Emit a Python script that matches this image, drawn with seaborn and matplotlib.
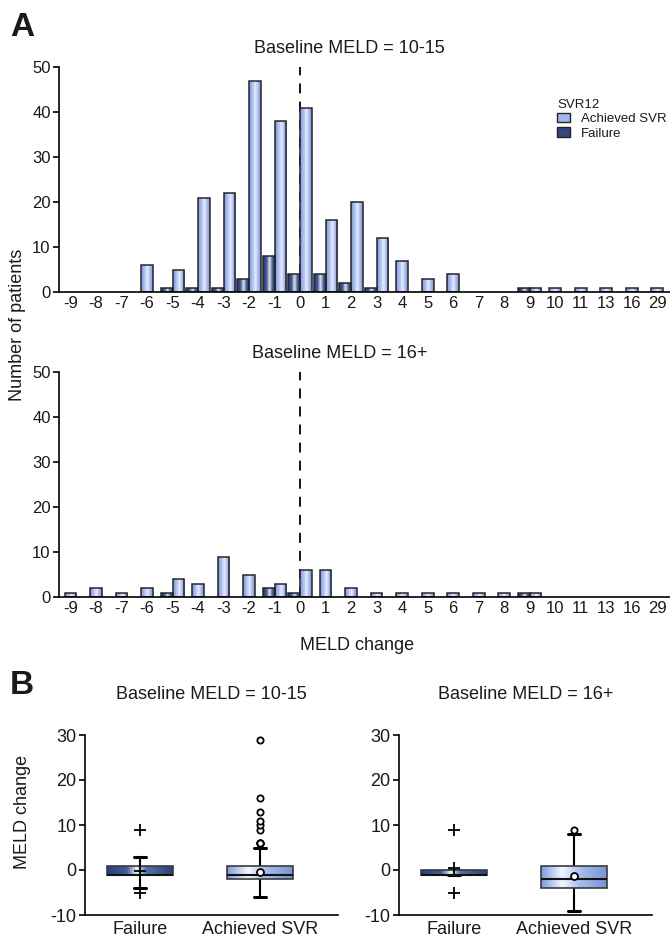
import numpy as np
import pandas as pd
import matplotlib
matplotlib.use('Agg')
import matplotlib.pyplot as plt
from matplotlib.colors import LinearSegmentedColormap, to_rgba
from matplotlib.patches import Patch
import seaborn as sns

# MELD change categories (x axis of the histograms)
categories = ['-9', '-8', '-7', '-6', '-5', '-4', '-3', '-2', '-1', '0', '1', '2', '3',
              '4', '5', '6', '7', '8', '9', '10', '11', '13', '16', '29']
change_values = [int(c) for c in categories]

# number of patients per MELD change, baseline MELD 10-15
achieved_low = [0, 0, 0, 6, 5, 21, 22, 47, 38, 41, 16, 20, 12, 7, 3, 4, 0, 0, 1, 1, 1, 1, 1, 1]
failure_low = [0, 0, 0, 0, 1, 1, 1, 3, 8, 4, 4, 2, 1, 0, 0, 0, 0, 0, 1, 0, 0, 0, 0, 0]
# baseline MELD 16+
achieved_high = [1, 2, 1, 2, 4, 3, 9, 5, 3, 6, 6, 2, 1, 1, 1, 1, 1, 1, 1, 0, 0, 0, 0, 0]
failure_high = [0, 0, 0, 0, 1, 0, 0, 0, 2, 1, 0, 0, 0, 0, 0, 0, 0, 0, 1, 0, 0, 0, 0, 0]

groups = ['Achieved SVR', 'Failure']
box_labels = ['Failure', 'Achieved SVR']

col_achieved = '#9db3ea'
col_failure = '#2e4279'
edge = '#262626'

cmap_achieved = LinearSegmentedColormap.from_list(
    'ach', [(0, '#7f98da'), (0.25, '#a3b8ee'), (0.55, '#e6edff'), (0.8, '#9fb4ec'), (1, '#7c95d8')])
cmap_failure = LinearSegmentedColormap.from_list(
    'fail', [(0, '#22336a'), (0.3, '#42588f'), (0.55, '#dfe4f0'), (0.8, '#465b92'), (1, '#203268')])
cmap_box_fail = LinearSegmentedColormap.from_list(
    'bfail', [(0, '#253f7a'), (0.3, '#405c9a'), (0.45, '#f0f3fa'), (0.6, '#56719f'), (1, '#27427e')])
cmap_box_ach = LinearSegmentedColormap.from_list(
    'bach', [(0, '#7e9bdc'), (0.32, '#f2f6ff'), (0.6, '#a7bcee'), (1, '#7694d8')])

sns.set_style('ticks')
plt.rcParams['font.family'] = ['Liberation Sans', 'DejaVu Sans']
plt.rcParams['axes.unicode_minus'] = False
plt.rcParams['axes.linewidth'] = 1.2
plt.rcParams['xtick.major.width'] = 1.2
plt.rcParams['ytick.major.width'] = 1.2
plt.rcParams['text.color'] = '#1a1a1a'
plt.rcParams['xtick.color'] = 'black'
plt.rcParams['ytick.color'] = 'black'
plt.rcParams['xtick.labelcolor'] = '#1a1a1a'
plt.rcParams['ytick.labelcolor'] = '#1a1a1a'
plt.rcParams['axes.edgecolor'] = 'black'


def gradient_fill(ax, patch, cmap, z):
    bb = patch.get_path().get_extents(patch.get_patch_transform())
    grad = np.linspace(0, 1, 256).reshape(1, -1)
    im = ax.imshow(grad, extent=[bb.x0, bb.x1, bb.y0, bb.y1], cmap=cmap, aspect='auto',
                   interpolation='bilinear', origin='lower', zorder=z)
    im.set_clip_path(patch)
    patch.set_facecolor('none')
    patch.set_zorder(z + 0.1)


def histogram(ax, achieved, failure, title, title_x):
    df = pd.DataFrame({
        'cat': categories * 2,
        'count': achieved + failure,
        'group': [groups[0]] * len(categories) + [groups[1]] * len(categories),
    })
    df = df[df['count'] > 0]
    ax.axvline(categories.index('0'), color='black', lw=1.3, ls=(0, (5.5, 4.5)), zorder=1)
    sns.barplot(data=df, x='cat', y='count', hue='group', order=categories, hue_order=groups,
                palette={groups[0]: col_achieved, groups[1]: col_failure}, dodge=False,
                saturation=1, width=0.46, errorbar=None, edgecolor=edge, linewidth=1.1,
                legend=False, ax=ax)
    both = {i for i in range(len(categories)) if achieved[i] > 0 and failure[i] > 0}
    bars = list(ax.patches)
    fail_rgba = to_rgba(col_failure)
    for p in bars:
        w = p.get_width()
        idx = int(round(p.get_x() + w / 2))
        fc = p.get_facecolor()
        is_fail = abs(fc[0] - fail_rgba[0]) + abs(fc[1] - fail_rgba[1]) + abs(fc[2] - fail_rgba[2]) < 0.1
        if idx in both:
            p.set_x(p.get_x() + (-w / 2 if is_fail else w / 2))
        gradient_fill(ax, p, cmap_failure if is_fail else cmap_achieved, 2)
    ax.set_xlim(-0.45, len(categories) - 0.5)
    ax.set_ylim(0, 50)
    ax.set_yticks([0, 10, 20, 30, 40, 50])
    ax.set_xlabel('')
    ax.set_ylabel('')
    ax.tick_params(axis='x', length=0, labelsize=12, pad=3)
    ax.tick_params(axis='y', length=4, labelsize=12, pad=2)
    ax.set_title(title, fontsize=13, x=title_x, pad=10)
    sns.despine(ax=ax)


def box_stats(vals):
    vals = np.asarray(vals, dtype=float)
    q1, med, q3 = np.percentile(vals, [25, 50, 75], method='lower')
    iqr = q3 - q1
    hi = vals[vals <= q3 + 1.5 * iqr].max()
    lo = vals[vals >= q1 - 1.5 * iqr].min()
    fliers = vals[(vals > hi) | (vals < lo)]
    return dict(med=med, q1=q1, q3=q3, whislo=lo, whishi=hi, fliers=fliers, mean=vals.mean())


def boxes(ax, achieved, failure, title):
    fail_vals = np.repeat(change_values, failure)
    ach_vals = np.repeat(change_values, achieved)
    common = dict(widths=0.55, patch_artist=True, showmeans=True, capwidths=0.1,
                  whiskerprops=dict(color='black', lw=1.5),
                  capprops=dict(color='black', lw=2.2),
                  medianprops=dict(color='#111111', lw=1.5))
    b1 = ax.bxp([box_stats(fail_vals)], positions=[0], **common,
                boxprops=dict(edgecolor='#3a3a3a', lw=1.2),
                flierprops=dict(marker='+', markeredgecolor='black', markersize=8, mew=1.3),
                meanprops=dict(marker='+', markeredgecolor='black', markersize=9, mew=1.3))
    b2 = ax.bxp([box_stats(ach_vals)], positions=[1], **common,
                boxprops=dict(edgecolor='#3a3a3a', lw=1.2),
                flierprops=dict(marker='o', markerfacecolor='white', markeredgecolor='black',
                                markersize=4.5, mew=1.3),
                meanprops=dict(marker='o', markerfacecolor='white', markeredgecolor='black',
                               markersize=5, mew=1.3))
    for res, cmap in ((b1, cmap_box_fail), (b2, cmap_box_ach)):
        for line in res['whiskers'] + res['caps']:
            line.set_zorder(1)
        for p in res['boxes']:
            gradient_fill(ax, p, cmap, 2)
        for line in res['medians']:
            line.set_zorder(3)
        for line in res['means'] + res['fliers']:
            line.set_zorder(4)
    ax.set_xlim(-0.46, 1.65)
    ax.set_ylim(-10, 30)
    ax.set_yticks([-10, 0, 10, 20, 30])
    ax.set_xticks([0, 1])
    ax.set_xticklabels(box_labels)
    ax.tick_params(axis='x', length=0, labelsize=13, pad=4)
    ax.tick_params(axis='y', length=4, labelsize=13, pad=2)
    ax.set_title(title, fontsize=13, pad=26)
    sns.despine(ax=ax)


W, H = 670, 939
fig = plt.figure(figsize=(W / 100, H / 100), dpi=100)

def axes_px(x0, y0, x1, y1):
    return fig.add_axes([x0 / W, 1 - y1 / H, (x1 - x0) / W, (y1 - y0) / H])

ax_top = axes_px(59, 67, 670, 292)
ax_bot = axes_px(59, 372, 670, 597)
ax_b1 = axes_px(85, 735, 338, 915)
ax_b2 = axes_px(399, 735, 652, 915)

histogram(ax_top, achieved_low, failure_low, 'Baseline MELD = 10-15', 0.476)
histogram(ax_bot, achieved_high, failure_high, 'Baseline MELD = 16+', 0.46)
boxes(ax_b1, achieved_low, failure_low, 'Baseline MELD = 10-15')
boxes(ax_b2, achieved_high, failure_high, 'Baseline MELD = 16+')

handles = [Patch(facecolor='#a3b8ee', edgecolor=edge, lw=1.0),
           Patch(facecolor='#33477c', edgecolor=edge, lw=1.0)]
ax_top.legend(handles, groups, title='SVR12', loc='upper left',
              bbox_to_anchor=(548 / W, 1 - 90 / H), bbox_transform=fig.transFigure,
              frameon=False, fontsize=9.5, title_fontsize=9.5, alignment='left',
              handlelength=1.0, handleheight=0.7, handletextpad=0.8, labelspacing=0.15,
              borderpad=0.2)

fig.text(10 / W, 1 - 27 / H, 'A', fontsize=24, fontweight='bold', va='center', ha='left')
fig.text(10 / W, 1 - 685 / H, 'B', fontsize=24, fontweight='bold', va='center', ha='left')
fig.text(18 / W, 1 - 325 / H, 'Number of patients', rotation=90, fontsize=13,
         ha='center', va='center')
fig.text(357 / W, 1 - 645 / H, 'MELD change', fontsize=13, ha='center', va='center')
fig.text(23 / W, 1 - 812 / H, 'MELD change', rotation=90, fontsize=13,
         ha='center', va='center')

fig.savefig('out.png', dpi=100)
